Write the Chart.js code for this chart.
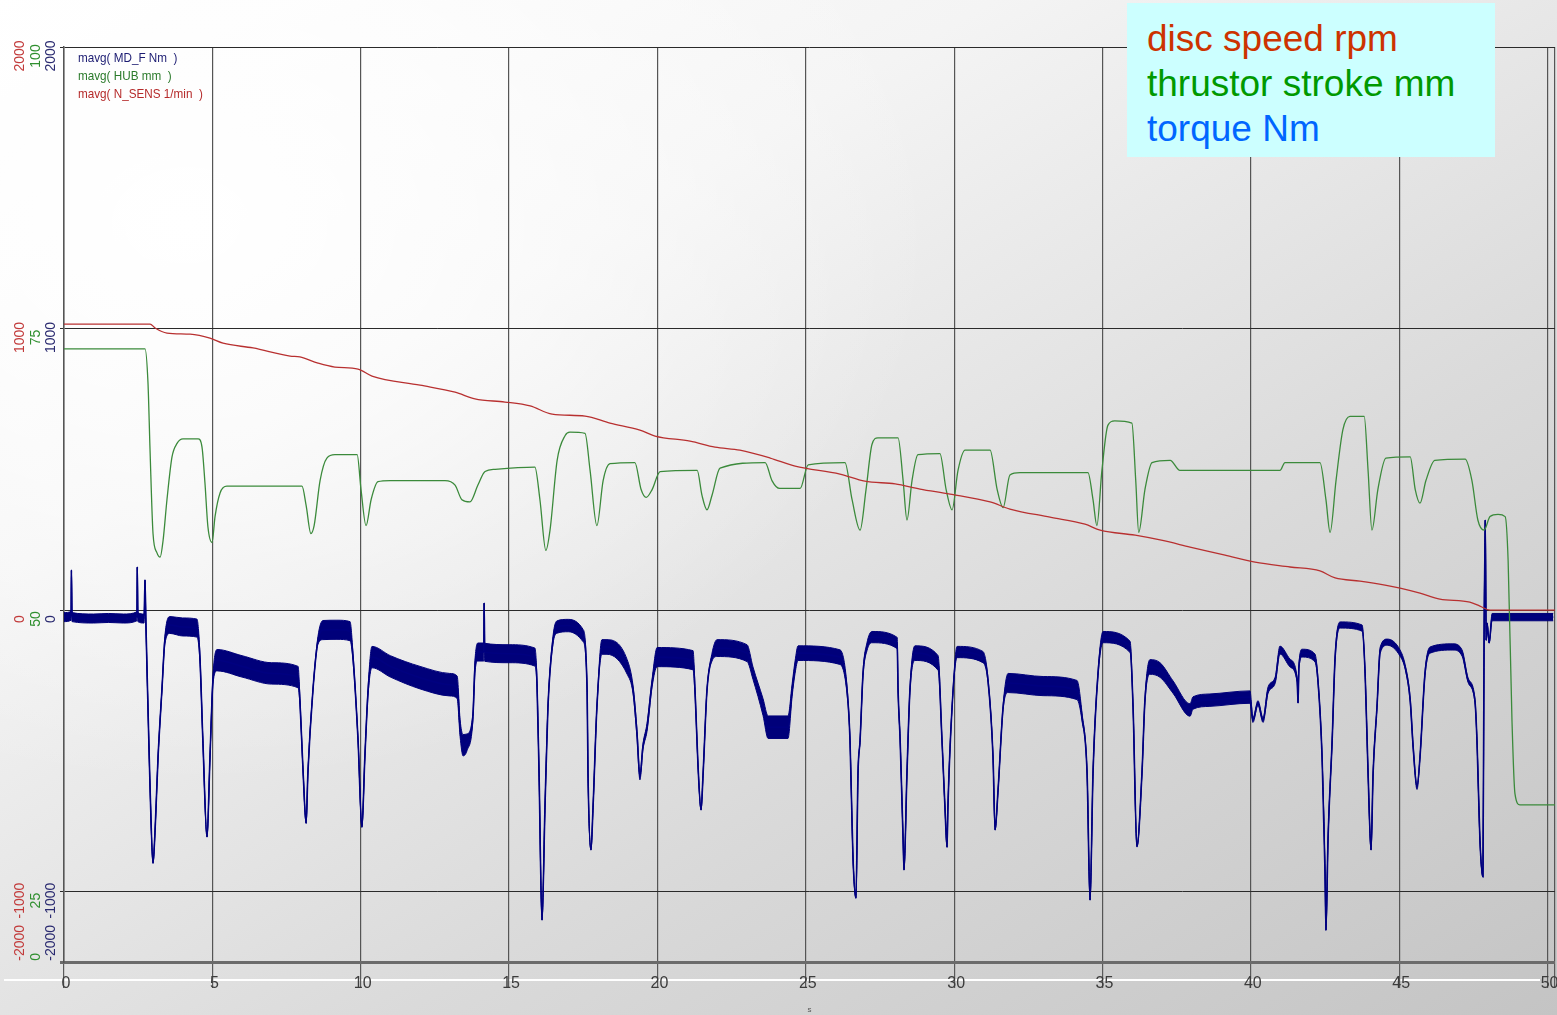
<!DOCTYPE html>
<html>
<head>
<meta charset="utf-8">
<script src="https://cdn.jsdelivr.net/npm/chart.js@4/dist/chart.umd.min.js"></script>
<style>
html,body{margin:0;padding:0;}
body{width:1557px;height:1015px;overflow:hidden;position:relative;
  background:
    radial-gradient(ellipse 1000px 750px at 12% 22%, rgba(255,255,255,1) 0%, rgba(255,255,255,0) 75%),
    linear-gradient(150deg,#ffffff 0%,#f4f4f4 30%,#dadada 65%,#c4c4c4 100%);}
#shine{position:absolute;left:4px;top:979px;width:1536px;height:2px;background:#ffffff;}
#chart{position:absolute;left:0;top:0;}
#note{position:absolute;left:1127px;top:3px;width:368px;height:154px;background:#ccffff;
  font-family:'Liberation Sans',Arial,sans-serif;font-size:37px;line-height:45px;
  padding:13px 0 0 20px;box-sizing:border-box;white-space:nowrap;}
#note div{height:45px;}
</style>
</head>
<body>
<div id="shine"></div>
<canvas id="chart" width="1557" height="1015"></canvas>
<div id="note">
  <div style="color:#cc3300">disc speed rpm</div>
  <div style="color:#009900">thrustor stroke mm</div>
  <div style="color:#0066ff">torque Nm</div>
</div>
<script>
// ---------- data (time in s) ----------
const rpmTime = [0, 2.90, 3.07, 3.47, 4.25, 4.92, 5.36, 6.37, 7.62, 7.95,
  8.56, 9.13, 9.91, 10.38, 12.00, 13.18, 13.85, 14.86, 15.71, 16.45,
  17.56, 18.40, 19.41, 19.92, 21.10, 21.94, 22.78, 23.80, 24.64, 26.15,
  26.99, 28.01, 28.85, 29.86, 31.21, 31.88, 33.23, 34.41, 34.92, 36.10,
  36.94, 37.95, 39.13, 40.14, 41.32, 42.33, 42.84, 43.68, 44.52, 45.03,
  45.70, 46.37, 47.38, 47.72, 48.06, 50.25];
const rpmValues = [1016, 1016, 1002, 984, 980, 966, 948, 931, 902, 899,
  877, 863, 856, 831, 799, 774, 750, 739, 725, 696,
  689, 664, 639, 618, 600, 579, 568, 540, 511, 483,
  458, 448, 430, 412, 384, 359, 330, 305, 284, 266,
  249, 224, 195, 170, 153, 139, 114, 103, 89, 78,
  60, 39, 28, 14, 0, 0];

const strokeTime = [0, 2.73, 2.83, 2.90, 3.00, 3.13, 3.24, 3.34, 3.47, 3.64,
  3.81, 4.01, 4.52, 4.65, 4.75, 4.85, 4.99, 5.09, 5.26, 5.49,
  8.02, 8.16, 8.32, 8.43, 8.63, 8.86, 9.13, 9.88, 10.01, 10.18,
  10.35, 10.58, 10.99, 12.84, 13.18, 13.41, 13.68, 13.95, 14.19, 14.53,
  15.87, 16.04, 16.24, 16.38, 16.62, 16.89, 17.05, 17.56, 17.73, 17.96,
  18.17, 18.40, 19.24, 19.45, 19.62, 19.82, 20.09, 21.34, 21.50, 21.67,
  21.84, 22.11, 23.63, 23.86, 24.12, 24.81, 25.08, 26.32, 26.56, 26.83,
  27.03, 27.23, 27.43, 28.11, 28.28, 28.41, 28.58, 28.78, 29.52, 29.73,
  29.93, 30.13, 30.37, 31.21, 31.45, 31.65, 31.88, 32.22, 34.51, 34.68,
  34.81, 34.98, 35.18, 35.41, 35.99, 36.12, 36.22, 36.43, 36.67, 37.28,
  37.61, 40.98, 41.15, 42.33, 42.53, 42.67, 42.87, 43.10, 43.34, 43.82,
  43.95, 44.08, 44.28, 44.55, 45.37, 45.54, 45.70, 45.90, 46.20, 47.22,
  47.45, 47.65, 47.86, 48.06, 48.33, 48.57, 48.67, 48.80, 48.90, 49.07,
  50.25];
const strokeValues = [73.2, 73.2, 70.2, 64.2, 56.8, 55.1, 54.7, 56.2, 59.8, 63.6,
  64.8, 65.2, 65.2, 64.5, 61.3, 57.4, 56.0, 58.3, 60.4, 61.0,
  61.0, 59.3, 56.8, 57.5, 61.5, 63.5, 63.8, 63.8, 60.7, 57.5,
  59.8, 61.4, 61.5, 61.5, 61.1, 59.8, 59.6, 61.1, 62.3, 62.5,
  62.7, 59.8, 55.3, 57.1, 63.3, 65.5, 65.8, 65.7, 62.4, 57.5,
  61.5, 63.0, 63.1, 60.7, 60.0, 60.7, 62.3, 62.4, 60.2, 58.9,
  60.2, 62.6, 63.1, 61.5, 60.8, 60.8, 62.9, 63.1, 59.8, 57.1,
  60.7, 64.7, 65.3, 65.3, 61.5, 58.0, 61.5, 63.8, 63.9, 60.7,
  58.9, 62.4, 64.2, 64.2, 60.7, 59.1, 62.0, 62.2, 62.2, 59.8,
  57.5, 62.4, 66.4, 66.8, 66.6, 61.5, 56.9, 60.7, 63.1, 63.3,
  62.4, 62.4, 63.1, 63.1, 59.8, 56.9, 61.5, 66.0, 67.2, 67.2,
  62.4, 57.1, 60.7, 63.5, 63.6, 60.7, 59.5, 61.5, 63.3, 63.4,
  61.5, 58.0, 57.1, 58.3, 58.5, 58.3, 54.4, 40.2, 33.7, 32.7,
  32.7];

const torqueTime = [0.00, 0.24, 0.25, 0.27, 1.00, 1.50, 2.00, 2.46, 2.47, 2.49,
  2.70, 2.73, 2.76, 2.83, 2.90, 3.00, 3.07, 3.17, 3.30, 3.40,
  3.57, 4.00, 4.48, 4.58, 4.68, 4.82, 4.92, 5.02, 5.16, 6.00,
  7.00, 7.89, 7.95, 8.06, 8.16, 8.22, 8.39, 8.56, 8.73, 9.20,
  9.64, 9.74, 9.91, 10.04, 10.14, 10.25, 10.38, 11.00, 12.00, 13.00,
  13.25, 13.35, 13.45, 13.58, 13.78, 13.85, 13.95, 14.15, 14.16, 14.18,
  15.00, 15.87, 15.94, 16.01, 16.11, 16.21, 16.31, 16.48, 16.62, 17.00,
  17.49, 17.63, 17.66, 17.76, 17.83, 17.96, 18.13, 18.30, 18.98, 19.18,
  19.31, 19.41, 19.51, 19.65, 19.82, 19.99, 21.20, 21.27, 21.37, 21.47,
  21.54, 21.67, 21.84, 22.01, 23.02, 23.22, 23.56, 23.73, 24.40, 24.54,
  24.64, 24.74, 26.15, 26.39, 26.49, 26.59, 26.69, 26.76, 26.83, 26.93,
  27.06, 27.23, 28.08, 28.11, 28.18, 28.28, 28.31, 28.41, 28.51, 28.68,
  29.46, 29.59, 29.69, 29.76, 29.79, 29.93, 30.10, 30.97, 31.14, 31.31,
  31.38, 31.48, 31.65, 31.82, 33.00, 34.14, 34.31, 34.48, 34.58, 34.68,
  34.85, 35.02, 35.93, 36.03, 36.16, 36.33, 36.43, 36.60, 36.94, 37.38,
  37.95, 38.05, 38.62, 39.97, 40.07, 40.24, 40.41, 40.58, 40.82, 40.98,
  41.32, 41.56, 41.59, 41.62, 41.73, 42.16, 42.26, 42.40, 42.50, 42.53,
  42.60, 42.74, 42.84, 43.01, 43.75, 43.85, 43.95, 44.05, 44.12, 44.25,
  44.36, 44.60, 45.03, 45.20, 45.37, 45.47, 45.60, 45.70, 45.87, 46.04,
  46.81, 47.12, 47.32, 47.55, 47.62, 47.72, 47.82, 47.86, 47.90, 47.93,
  47.96, 48.03, 48.13, 50.19];
const torqueValues = [-25, -20, 142, -25, -30, -28, -30, -22, 153, -25,
  -30, 107, -45, -345, -629, -899, -781, -522, -284, -107,
  -53, -60, -64, -167, -462, -806, -522, -249, -178, -200,
  -225, -238, -320, -579, -757, -579, -284, -107, -71, -70,
  -75, -167, -462, -771, -522, -284, -167, -200, -240, -265,
  -274, -420, -480, -470, -380, -202, -149, -149, 25, -150,
  -155, -167, -259, -579, -1101, -700, -345, -107, -60, -55,
  -90, -284, -579, -852, -700, -345, -131, -131, -202, -284,
  -437, -593, -487, -416, -259, -167, -178, -295, -558, -710,
  -579, -284, -167, -135, -153, -224, -345, -416, -416, -284,
  -202, -153, -167, -284, -462, -877, -1023, -579, -462, -224,
  -131, -96, -117, -284, -462, -817, -923, -579, -284, -153,
  -188, -462, -700, -842, -700, -345, -149, -167, -249, -522,
  -781, -639, -345, -259, -270, -284, -380, -579, -1030, -579,
  -224, -96, -131, -345, -840, -579, -320, -202, -213, -274,
  -355, -330, -320, -309, -391, -330, -391, -284, -249, -142,
  -188, -249, -330, -200, -153, -170, -249, -522, -934, -1137,
  -817, -462, -167, -53, -64, -224, -579, -852, -579, -345,
  -142, -114, -153, -202, -320, -487, -629, -522, -224, -142,
  -131, -153, -249, -320, -462, -817, -948, -107, 320, -107,
  -46, -117, -25, -25];
// half-width of the noise band (Nm)
const torqueSpread = [16, 16, 0, 16, 16, 16, 16, 16, 0, 16,
  16, 0, 10, 0, 0, 0, 0, 0, 0, 14,
  30, 32, 32, 14, 0, 0, 0, 14, 38, 38,
  38, 38, 14, 0, 0, 0, 0, 14, 34, 34,
  34, 14, 0, 0, 0, 14, 38, 38, 40, 40,
  40, 30, 38, 30, 14, 22, 32, 32, 0, 32,
  32, 32, 14, 0, 0, 0, 0, 14, 22, 22,
  22, 0, 0, 0, 0, 0, 26, 26, 26, 14,
  14, 10, 10, 14, 14, 34, 34, 14, 0, 0,
  0, 0, 14, 30, 30, 22, 30, 40, 40, 22,
  22, 26, 26, 14, 0, 0, 0, 0, 0, 8,
  14, 20, 20, 0, 0, 0, 0, 0, 8, 26,
  26, 0, 0, 0, 0, 0, 20, 20, 8, 0,
  0, 0, 8, 34, 34, 34, 14, 0, 0, 0,
  8, 20, 20, 0, 0, 0, 8, 26, 26, 22,
  22, 22, 22, 22, 8, 8, 8, 11, 11, 14,
  14, 8, 0, 8, 14, 14, 8, 0, 0, 0,
  0, 0, 8, 11, 11, 0, 0, 0, 0, 0,
  11, 11, 11, 8, 8, 8, 8, 0, 8, 11,
  11, 11, 8, 8, 0, 0, 0, 0, 0, 0,
  0, 0, 13, 13];

// ---------- ticks / labels ----------
const xTickValues = [0, 5, 10, 15, 20, 25, 30, 35, 40, 45, 50];
const xTickLabels = ['0', '5', '10', '15', '20', '25', '30', '35', '40', '45', '50'];
const gridValues = [2000, 1000, 0, -1000, -1250];
const rpmTickValues = [2000, 1000, 0, -1000, -1150];
const rpmTickLabels = ['2000', '1000', '0', '-1000', '-2000'];
const strokeTickValues = [100, 75, 50, 25, 20];
const strokeTickLabels = ['100', '75', '50', '25', '0'];
const torqueTickValues = [2000, 1000, 0, -1000, -1150];
const torqueTickLabels = ['2000', '1000', '0', '-1000', '-2000'];
const legendItems = ['mavg( MD_F Nm  )', 'mavg( HUB mm  )', 'mavg( N_SENS 1/min  )'];
const legendColors = ['#1c1c72', '#2a7a2a', '#b52a2a'];

const NARROW = "'Liberation Sans Narrow', 'Liberation Sans', sans-serif";
const SANS = "'Liberation Sans', Arial, sans-serif";

const pts = (t, v) => t.map((x, i) => ({x: x, y: v[i]}));

const innerLegend = {
  id: 'innerLegend',
  afterDraw(chart) {
    const ctx = chart.ctx, a = chart.chartArea;
    ctx.save();
    ctx.font = "13px " + SANS;
    ctx.textBaseline = 'middle';
    ctx.translate(a.left + 14, a.top + 11);
    ctx.scale(0.9, 1);
    legendItems.forEach((t, i) => {
      ctx.fillStyle = legendColors[i];
      ctx.fillText(t, 0, i * 18);
    });
    ctx.restore();
  }
};

function yLabelAxis(weight, min, max, values, labels, color, padding, width) {
  return {
    type: 'linear', position: 'left', weight: weight, min: min, max: max,
    afterBuildTicks: s => { s.ticks = values.map(v => ({value: v})); },
    afterFit: s => { s.width = width; },
    ticks: {
      autoSkip: false, minRotation: 90, maxRotation: 90, crossAlign: 'center',
      padding: padding, labelOffset: 9, color: color,
      font: {family: SANS, size: 14},
      callback: (v, i) => labels[i]
    },
    grid: {display: false, drawTicks: false},
    border: {display: false}
  };
}

new Chart(document.getElementById('chart'), {
  type: 'line',
  data: {
    datasets: [
      {label: 'torque band upper', data: pts(torqueTime, torqueValues.map((v, i) => v + torqueSpread[i])),
        yAxisID: 'yNm', borderColor: '#00007a', backgroundColor: '#00007a', borderWidth: 1,
        fill: '+1', pointRadius: 0, order: 5},
      {label: 'torque band lower', data: pts(torqueTime, torqueValues.map((v, i) => v - torqueSpread[i])),
        yAxisID: 'yNm', borderColor: '#00007a', borderWidth: 1, fill: false, pointRadius: 0, order: 5},
      {label: 'MD_F Nm', data: pts(torqueTime, torqueValues), yAxisID: 'yNm',
        borderColor: '#000080', borderWidth: 1.6, fill: false, pointRadius: 0, order: 4},
      {label: 'HUB mm', data: pts(strokeTime, strokeValues), yAxisID: 'yMm',
        borderColor: '#3b8a3b', borderWidth: 1.3, fill: false, pointRadius: 0, order: 2},
      {label: 'N_SENS 1/min', data: pts(rpmTime, rpmValues), yAxisID: 'yRpm',
        borderColor: '#b83030', borderWidth: 1.3, fill: false, pointRadius: 0, order: 1}
    ]
  },
  options: {
    responsive: false, animation: false, devicePixelRatio: 1,
    layout: {autoPadding: false, padding: {top: 47, left: 0, right: 2, bottom: 0}},
    elements: {line: {cubicInterpolationMode: 'monotone'}},
    plugins: {legend: {display: false}, tooltip: {enabled: false}},
    scales: {
      x: {
        type: 'linear', min: 0, max: 50.25,
        afterBuildTicks: s => { s.ticks = xTickValues.concat([50.25]).map(v => ({value: v})); },
        afterFit: s => { s.height = 53; },
        ticks: {autoSkip: false, maxRotation: 0, minRotation: 0, padding: -14, color: '#3c3c3c',
          labelOffset: 2, font: {family: NARROW, size: 16},
          callback: (v, i) => (xTickLabels[i] !== undefined ? xTickLabels[i] : '')},
        grid: {color: '#555555', lineWidth: 1.2, tickLength: 26, tickColor: '#5a5a5a'},
        border: {display: true, color: '#6b6b6b', width: 3},
        title: {display: true, text: 's', color: '#555', font: {family: SANS, size: 8}, padding: {top: 0, bottom: 0}}
      },
      yRpm: yLabelAxis(3, -1250, 2000, rpmTickValues, rpmTickLabels, '#c23a3a', -11.9, 26),
      yMm: yLabelAxis(2, 18.75, 100, strokeTickValues, strokeTickLabels, '#2f8f2f', -3.7, 18),
      yNm: yLabelAxis(1, -1250, 2000, torqueTickValues, torqueTickLabels, '#2a2a70', -4.9, 20),
      yGrid: {
        type: 'linear', position: 'left', weight: 0, min: -1250, max: 2000,
        afterBuildTicks: s => { s.ticks = gridValues.map(v => ({value: v})); },
        afterFit: s => { s.width = 0; },
        ticks: {display: false},
        grid: {
          color: c => (c.tick && c.tick.value === -1250 ? '#6b6b6b' : '#2a2a2a'),
          lineWidth: c => (c.tick && c.tick.value === -1250 ? 3 : 1),
          drawTicks: true, tickLength: 4
        },
        border: {display: true, color: '#555555', width: 1.5}
      }
    }
  },
  plugins: [innerLegend]
});
</script>
</body>
</html>
